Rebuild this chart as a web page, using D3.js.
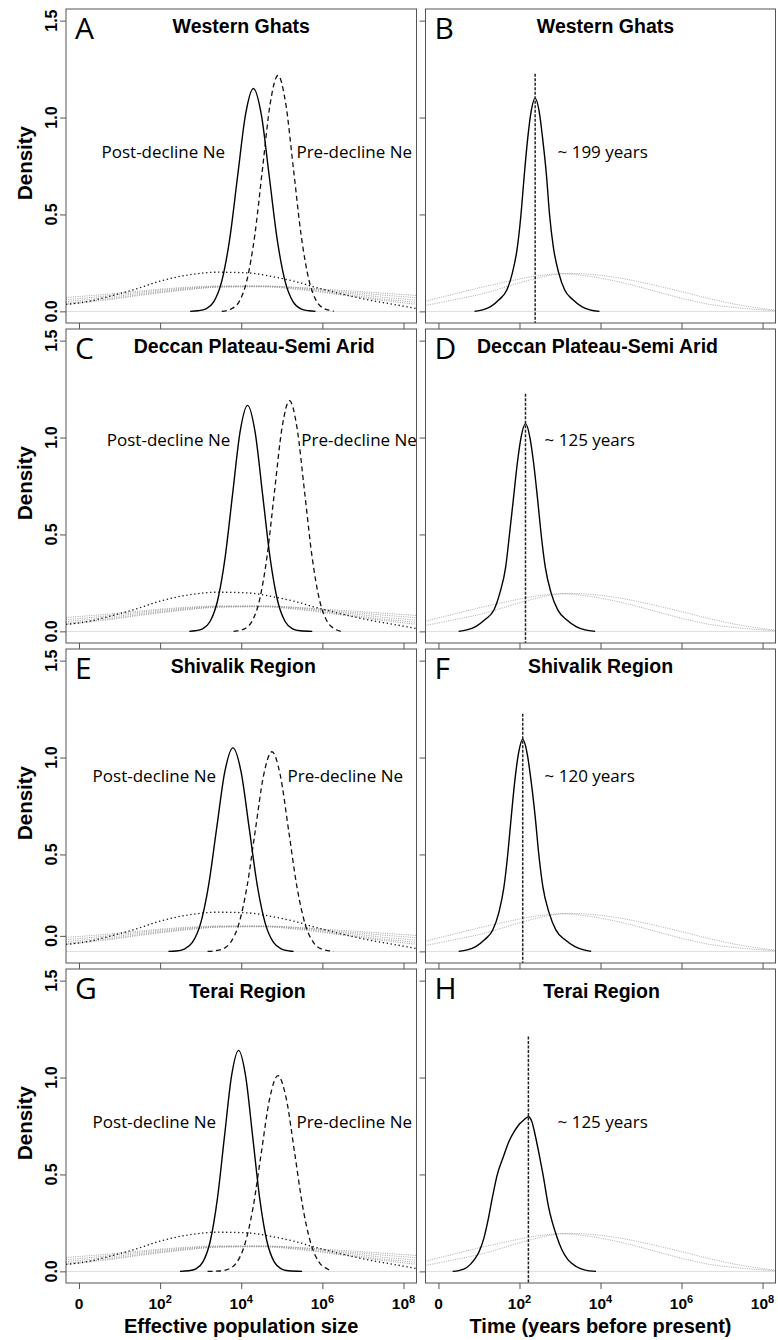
<!DOCTYPE html>
<html>
<head>
<meta charset="utf-8">
<script src="https://cdn.jsdelivr.net/npm/d3@7"></script>
<style>
  body { margin: 0; background: #fff; }
  svg { display: block; }
</style>
</head>
<body>
<svg width="778" height="1340"></svg>
<script>
//

const regions = ['Western Ghats', 'Deccan Plateau-Semi Arid', 'Shivalik Region', 'Terai Region']
const leftLetters = ['A', 'C', 'E', 'G']
const rightLetters = ['B', 'D', 'F', 'H']

const xTicks = [0, 2, 4, 6, 8]
const xTickLabels = [['0', ''], ['10', '2'], ['10', '4'], ['10', '6'], ['10', '8']]
const yTicks = [0, 0.5, 1, 1.5]
// the 0.0 label of panel E sits above its zero line in the original figure
const yTicksShivalik = [0.08, 0.5, 1, 1.5]
const yTickLabels = ['0.0', '0.5', '1.0', '1.5']

// posterior densities over log10(Ne): [log10 x, density]
const postNe = [
  [[2.74, 0], [2.935, 0.003], [3.13, 0.013], [3.325, 0.05], [3.52, 0.156], [3.715, 0.373], [3.91, 0.697], [4.105, 1.015], [4.3, 1.15], [4.495, 1.015], [4.69, 0.697], [4.885, 0.373], [5.08, 0.156], [5.275, 0.05], [5.47, 0.013], [5.665, 0.003], [5.83, 0]],
  [[2.72, 0], [2.861, 0.003], [3.046, 0.013], [3.231, 0.051], [3.416, 0.158], [3.601, 0.379], [3.786, 0.707], [3.971, 1.029], [4.156, 1.166], [4.341, 1.029], [4.526, 0.707], [4.711, 0.379], [4.896, 0.158], [5.081, 0.051], [5.266, 0.013], [5.451, 0.003], [5.75, 0]],
  [[2.205, 0], [2.395, 0.002], [2.595, 0.012], [2.795, 0.046], [2.995, 0.142], [3.195, 0.341], [3.395, 0.637], [3.595, 0.927], [3.795, 1.05], [3.995, 0.927], [4.195, 0.637], [4.395, 0.341], [4.595, 0.142], [4.795, 0.046], [4.995, 0.012], [5.195, 0.002], [5.29, 0]],
  [[2.49, 0], [2.709, 0.003], [2.884, 0.013], [3.059, 0.05], [3.234, 0.154], [3.409, 0.37], [3.584, 0.691], [3.759, 1.006], [3.934, 1.14], [4.109, 1.006], [4.284, 0.691], [4.459, 0.37], [4.634, 0.154], [4.809, 0.05], [4.984, 0.013], [5.159, 0.003], [5.5, 0]]
]

const preNe = [
  [[3.52, 0], [3.765, 0.014], [3.955, 0.053], [4.145, 0.165], [4.335, 0.395], [4.525, 0.738], [4.715, 1.074], [4.905, 1.217], [5.095, 1.074], [5.285, 0.738], [5.475, 0.395], [5.665, 0.165], [5.855, 0.053], [6.045, 0.014], [6.235, 0.003], [6.28, 0]],
  [[3.81, 0], [3.895, 0.003], [4.08, 0.013], [4.265, 0.052], [4.45, 0.161], [4.635, 0.386], [4.82, 0.722], [5.005, 1.05], [5.19, 1.19], [5.375, 1.05], [5.56, 0.722], [5.745, 0.386], [5.93, 0.161], [6.115, 0.052], [6.3, 0.013], [6.46, 0]],
  [[3.17, 0], [3.322, 0.002], [3.527, 0.011], [3.732, 0.045], [3.937, 0.139], [4.142, 0.334], [4.347, 0.625], [4.552, 0.909], [4.757, 1.03], [4.962, 0.909], [5.167, 0.625], [5.372, 0.334], [5.577, 0.139], [5.782, 0.045], [5.987, 0.011], [6.192, 0.002], [6.28, 0]],
  [[3.17, 0], [3.47, 0.002], [3.675, 0.011], [3.88, 0.044], [4.085, 0.137], [4.29, 0.328], [4.495, 0.613], [4.7, 0.891], [4.905, 1.01], [5.11, 0.891], [5.315, 0.613], [5.52, 0.328], [5.725, 0.137], [5.93, 0.044], [6.135, 0.011], [6.22, 0]]
]

// priors, same in every region
const priorPostNe = [[-0.32, 0.036], [0.2, 0.05], [0.77, 0.079], [1.4, 0.115], [2.0, 0.156], [2.7, 0.188], [3.4, 0.202], [4.14, 0.199], [4.7, 0.182], [5.29, 0.156], [5.9, 0.12], [6.53, 0.087], [7.15, 0.058], [7.76, 0.036], [8.32, 0.014]]

const priorPreNe = [
  [[-0.32, 0.072], [0.5, 0.085], [1.5, 0.105], [2.5, 0.122], [3.5, 0.131], [4.5, 0.131], [5.5, 0.122], [6.5, 0.108], [7.5, 0.094], [8.32, 0.082]],
  [[-0.32, 0.06], [0.5, 0.076], [1.5, 0.099], [2.5, 0.118], [3.5, 0.129], [4.5, 0.13], [5.5, 0.121], [6.5, 0.102], [7.5, 0.084], [8.32, 0.07]],
  [[-0.32, 0.05], [0.5, 0.067], [1.5, 0.092], [2.5, 0.114], [3.5, 0.128], [4.5, 0.129], [5.5, 0.118], [6.5, 0.096], [7.5, 0.073], [8.32, 0.058]],
  [[-0.32, 0.042], [0.5, 0.059], [1.5, 0.086], [2.5, 0.11], [3.5, 0.126], [4.5, 0.128], [5.5, 0.114], [6.5, 0.089], [7.5, 0.063], [8.32, 0.047]],
  [[-0.32, 0.036], [0.5, 0.054], [1.5, 0.082], [2.5, 0.108], [3.5, 0.125], [4.5, 0.127], [5.5, 0.111], [6.5, 0.084], [7.5, 0.056], [8.32, 0.037]]
]

// time of decline, log10 years
const timePost = [
  [[0.89, 0], [1.087, 0.008], [1.287, 0.025], [1.507, 0.062], [1.687, 0.11], [1.827, 0.2], [1.947, 0.33], [2.037, 0.5], [2.117, 0.7], [2.207, 0.9], [2.287, 1.03], [2.387, 1.1], [2.487, 1.03], [2.567, 0.9], [2.667, 0.7], [2.742, 0.5], [2.837, 0.33], [2.967, 0.2], [3.117, 0.11], [3.307, 0.062], [3.537, 0.025], [3.737, 0.008], [3.975, 0]],
  [[0.498, 0], [0.698, 0.008], [0.918, 0.025], [1.158, 0.062], [1.368, 0.11], [1.518, 0.2], [1.658, 0.33], [1.753, 0.5], [1.848, 0.68], [1.948, 0.87], [2.038, 1.0], [2.148, 1.072], [2.258, 1.0], [2.348, 0.87], [2.448, 0.68], [2.535, 0.5], [2.638, 0.33], [2.778, 0.2], [2.948, 0.11], [3.148, 0.062], [3.398, 0.025], [3.618, 0.008], [3.868, 0]],
  [[0.5, 0], [0.71, 0.008], [0.92, 0.025], [1.15, 0.062], [1.34, 0.11], [1.49, 0.2], [1.615, 0.33], [1.71, 0.5], [1.795, 0.69], [1.89, 0.89], [1.975, 1.02], [2.08, 1.094], [2.19, 1.02], [2.28, 0.89], [2.39, 0.69], [2.477, 0.5], [2.58, 0.33], [2.73, 0.2], [2.9, 0.11], [3.11, 0.062], [3.37, 0.025], [3.59, 0.008], [3.77, 0]],
  [[0.35, 0], [0.5, 0.004], [0.7, 0.02], [0.89, 0.062], [1.0, 0.1], [1.12, 0.17], [1.22, 0.26], [1.33, 0.38], [1.45, 0.498], [1.6, 0.59], [1.75, 0.675], [1.88, 0.725], [2.0, 0.76], [2.1, 0.78], [2.22, 0.798], [2.31, 0.77], [2.38, 0.71], [2.47, 0.62], [2.58, 0.5], [2.72, 0.33], [2.92, 0.18], [3.05, 0.11], [3.19, 0.062], [3.4, 0.025], [3.6, 0.008], [3.89, 0]]
]
const timeMode = [2.387, 2.148, 2.08, 2.22]
const timeModeTop = [1.226, 1.226, 1.226, 1.212]
const timeLabels = ['~ 199 years', '~ 125 years', '~ 120 years', '~ 125 years']

const priorTime = [
  [[-0.32, 0.053], [0.4, 0.09], [1.18, 0.13], [1.8, 0.158], [2.37, 0.181], [2.99, 0.194], [3.4, 0.195], [3.81, 0.19], [4.35, 0.176], [4.88, 0.156], [5.5, 0.127], [6.11, 0.096], [6.7, 0.065], [7.35, 0.036], [7.9, 0.017], [8.32, 0.006]],
  [[-0.32, 0.031], [0.4, 0.06], [1.18, 0.096], [1.8, 0.135], [2.37, 0.168], [2.8, 0.188], [3.1, 0.194], [3.45, 0.189], [3.81, 0.178], [4.35, 0.157], [4.88, 0.13], [5.5, 0.095], [6.11, 0.062], [6.7, 0.036], [7.35, 0.019], [7.9, 0.009], [8.32, 0.004]]
]

// where the curve labels sit, in data units
const postLabelAt = [[3.6, 0.79], [3.73, 0.957], [3.38, 0.874], [3.38, 0.74]]
const preLabelAt = [[5.36, 0.79], [5.48, 0.957], [5.14, 0.874], [5.36, 0.74]]
const timeLabelAt = [[2.94, 0.79], [2.62, 0.957], [2.62, 0.874], [2.94, 0.74]]

//

const svg = d3.select('svg')

const rowStep = 320
const boxTop = 9
const boxBottom = 323
const colRange = [[66, 416.5], [425.5, 775.5]]
const titleShift = [[0, 13, 2, 6], [5, -3, 0, 1]]
const titleBase = [33, 33, 33, 38]

const boldFont = "'Liberation Sans', Arial, Helvetica, sans-serif"
const lightFont = "'Open Sans', 'Noto Sans', sans-serif"
const frameColor = '#555'

const y = d3.scaleLinear().domain([-0.06, 1.56]).range([boxBottom, boxTop])
const xs = colRange.map((r) => d3.scaleLinear().domain([-0.32, 8.32]).range(r))

function drawFrame (g, x, row, col) {
  const [x0, x1] = x.range()

  g.append('rect')
    .attr('x', x0)
    .attr('y', boxTop)
    .attr('width', x1 - x0)
    .attr('height', boxBottom - boxTop)
    .attr('fill', 'none')
    .attr('stroke', frameColor)
    .attr('stroke-width', 1)

  const ticksY = (col === 0 && row === 2) ? yTicksShivalik : yTicks
  const yAxis = g.append('g')
    .attr('transform', `translate(${x0},0)`)
    .call(d3.axisLeft(y).tickValues(ticksY).tickSize(6).tickFormat(''))
  yAxis.select('.domain').remove()
  yAxis.selectAll('line').attr('stroke', frameColor)

  const xAxis = g.append('g')
    .attr('transform', `translate(0,${boxBottom})`)
    .call(d3.axisBottom(x).tickValues(xTicks).tickSize(6).tickFormat(''))
  xAxis.select('.domain').remove()
  xAxis.selectAll('line').attr('stroke', frameColor)

  if (col === 0) {
    g.selectAll('.ylab')
      .data(ticksY)
      .enter()
      .append('text')
      .attr('class', 'ylab')
      .attr('transform', (d) => `translate(57,${y(d)}) rotate(-90)`)
      .attr('text-anchor', 'middle')
      .attr('font-family', boldFont)
      .attr('font-weight', 'bold')
      .attr('font-size', 16)
      .text((d, i) => yTickLabels[i])

    g.append('text')
      .attr('transform', `translate(32,${163}) rotate(-90)`)
      .attr('text-anchor', 'middle')
      .attr('font-family', boldFont)
      .attr('font-weight', 'bold')
      .attr('font-size', 20.5)
      .text('Density')
  }

  if (row === regions.length - 1) {
    const labels = g.selectAll('.xlab')
      .data(xTicks)
      .enter()
      .append('text')
      .attr('class', 'xlab')
      .attr('x', (d) => x(d))
      .attr('y', boxBottom + 26)
      .attr('text-anchor', 'middle')
      .attr('font-family', boldFont)
      .attr('font-weight', 'bold')
      .attr('font-size', 15.5)

    labels.append('tspan').text((d, i) => xTickLabels[i][0])
    labels.append('tspan')
      .attr('dy', -6)
      .attr('font-size', 11)
      .text((d, i) => xTickLabels[i][1])

    g.append('text')
      .attr('x', (x0 + x1) / 2)
      .attr('y', boxBottom + 50)
      .attr('text-anchor', 'middle')
      .attr('font-family', boldFont)
      .attr('font-weight', 'bold')
      .attr('font-size', 20)
      .text(col === 0 ? 'Effective population size' : 'Time (years before present)')
  }

  g.append('text')
    .attr('x', x0 + 9)
    .attr('y', 39)
    .attr('font-family', lightFont)
    .attr('font-weight', 400)
    .attr('font-size', 30)
    .text(col === 0 ? leftLetters[row] : rightLetters[row])

  g.append('text')
    .attr('x', (x0 + x1) / 2 + titleShift[col][row])
    .attr('y', titleBase[row])
    .attr('text-anchor', 'middle')
    .attr('font-family', boldFont)
    .attr('font-weight', 'bold')
    .attr('font-size', 19.5)
    .text(regions[row])
}

function plotArea (g, x, id) {
  const [x0, x1] = x.range()
  g.append('clipPath')
    .attr('id', id)
    .append('rect')
    .attr('x', x0)
    .attr('y', boxTop)
    .attr('width', x1 - x0)
    .attr('height', boxBottom - boxTop)

  const area = g.append('g').attr('clip-path', `url(#${id})`)

  area.append('line')
    .attr('x1', x0)
    .attr('x2', x1)
    .attr('y1', y(0))
    .attr('y2', y(0))
    .attr('stroke', '#ddd')
    .attr('stroke-width', 1)

  return area
}

function curve (area, x, data, stroke, width, dash) {
  const line = d3.line()
    .x((d) => x(d[0]))
    .y((d) => y(d[1]))
    .curve(d3.curveMonotoneX)

  area.append('path')
    .datum(data)
    .attr('d', line)
    .attr('fill', 'none')
    .attr('stroke', stroke)
    .attr('stroke-width', width)
    .attr('stroke-dasharray', dash)
}

function label (g, x, at, txt, anchor) {
  g.append('text')
    .attr('x', x(at[0]))
    .attr('y', y(at[1]))
    .attr('text-anchor', anchor)
    .attr('font-family', lightFont)
    .attr('font-size', 17)
    .text(txt)
}

regions.forEach((name, row) => {
  const gRow = svg.append('g')
    .attr('transform', `translate(0,${row * rowStep})`)

  // left: effective population size
  const xl = xs[0]
  const gl = gRow.append('g')
  const al = plotArea(gl, xl, `clip-ne-${row}`)
  priorPreNe.forEach((p) => curve(al, xl, p, '#9a9a9a', 0.9, '1,1.3'))
  curve(al, xl, priorPostNe, '#111', 1.3, '1.3,2.7')
  curve(al, xl, preNe[row], '#111', 1.3, '5,3.5')
  curve(al, xl, postNe[row], '#000', 1.4, null)
  drawFrame(gl, xl, row, 0)
  label(gl, xl, postLabelAt[row], 'Post-decline Ne', 'end')
  label(gl, xl, preLabelAt[row], 'Pre-decline Ne', 'start')

  // right: time since decline
  const xr = xs[1]
  const gr = gRow.append('g')
  const ar = plotArea(gr, xr, `clip-time-${row}`)
  priorTime.forEach((p) => curve(ar, xr, p, '#a0a0a0', 0.9, '1,1.3'))
  curve(ar, xr, timePost[row], '#000', 1.4, null)
  ar.append('line')
    .attr('x1', xr(timeMode[row]))
    .attr('x2', xr(timeMode[row]))
    .attr('y1', y(timeModeTop[row]))
    .attr('y2', boxBottom)
    .attr('stroke', '#222')
    .attr('stroke-width', 1.5)
    .attr('stroke-dasharray', '3,1.5')
  drawFrame(gr, xr, row, 1)
  label(gr, xr, timeLabelAt[row], timeLabels[row], 'start')
})

//
</script>
</body>
</html>
